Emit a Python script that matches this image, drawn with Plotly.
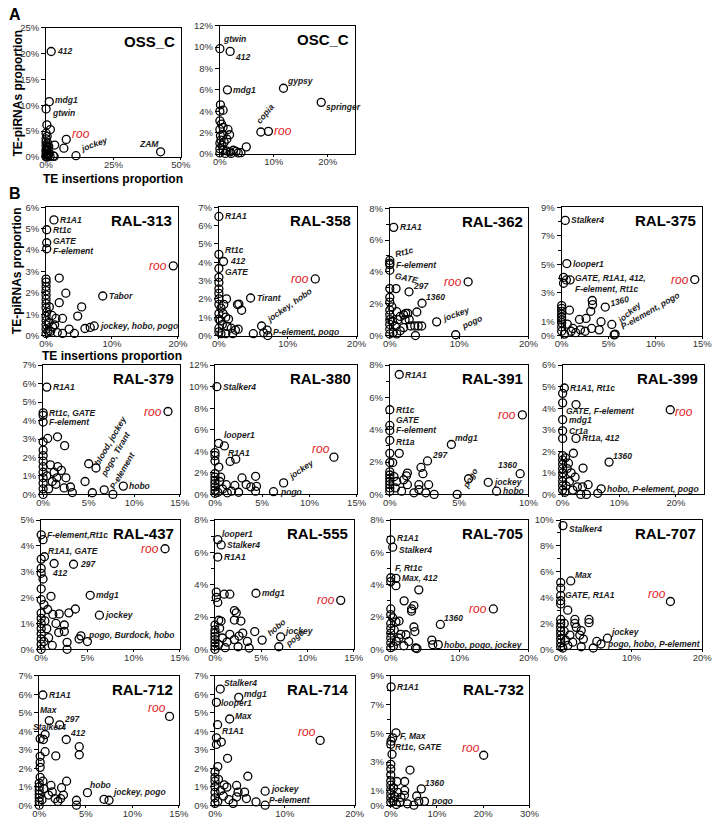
import plotly.graph_objects as go

# ---------------- DATA (percent units) ----------------
# For each panel: names of the labelled points (they are the first points of the list)
oss_c_names = ["412", "mdg1", "gtwin", "roo", "jockey", "ZAM"]
oss_c_pts = [(1.9, 20.4), (1.2, 10.7), (0.0, 9.3), (7.5, 3.4), (11.1, 0.25), (42.5, 1.0),
             (0.3, 6.2), (1.6, 5.3), (0.0, 4.6), (0.4, 4.0), (0.0, 3.5), (0.0, 2.9), (0.6, 2.7), (3.2, 2.3),
             (0.0, 2.2), (1.0, 2.0), (6.6, 1.7), (0.2, 1.6), (0.5, 1.2), (0.0, 1.0), (1.2, 0.8), (0.3, 0.6),
             (0.0, 0.4), (0.8, 0.3), (2.7, 0.2), (0.2, 0.1), (1.5, 0.1), (0.0, 0.0), (0.6, 0.0), (3.0, 0.1),
             (0.4, 1.9), (0.0, 1.4), (0.7, 0.5)]

osc_c_names = ["gtwin", "412", "mdg1", "gypsy", "springer", "copia", "roo"]
osc_c_pts = [(0.0, 9.85), (1.9, 9.6), (1.4, 6.0), (11.8, 6.15), (18.8, 4.83), (7.6, 2.06), (9.0, 2.12),
             (4.9, 0.67), (0.1, 4.6), (0.0, 4.0), (0.6, 4.1), (0.0, 3.1), (0.3, 2.8), (0.6, 2.5), (1.5, 2.3),
             (1.8, 1.8), (1.3, 1.4), (0.1, 1.7), (0.6, 1.8), (0.0, 2.3), (0.2, 1.3), (0.0, 1.0), (0.4, 0.8),
             (0.0, 0.5), (0.6, 0.4), (1.2, 0.3), (1.9, 0.2), (2.5, 0.35), (3.0, 0.25), (3.4, 0.1), (3.9, 0.12),
             (1.0, 0.05), (0.0, 0.1), (2.1, 0.05), (0.8, 1.1)]

ral313_names = ["R1A1", "Rt1c", "GATE", "F-element", "roo", "Tabor", "jockey, hobo, pogo"]
ral313_pts = [(1.2, 5.41), (0.1, 4.95), (0.1, 4.34), (0.1, 4.06), (19.3, 3.26), (8.6, 1.85), (7.3, 0.45),
              (2.0, 2.69), (3.0, 1.98), (2.0, 1.54), (5.4, 1.34), (4.8, 0.91), (2.5, 0.8), (6.7, 0.38), (5.9, 0.33),
              (3.5, 0.3), (1.7, 0.14), (0.7, 0.2), (0.0, 2.64), (0.0, 2.5), (0.0, 2.3), (0.0, 2.1), (0.0, 1.9),
              (0.0, 1.7), (0.0, 1.5), (0.0, 1.3), (0.1, 1.1), (0.0, 0.9), (0.0, 0.7), (0.0, 0.5), (0.0, 0.3),
              (0.0, 0.1), (0.5, 1.34), (0.9, 0.94), (1.5, 0.8), (0.4, 0.6), (1.0, 0.4), (0.3, 0.2), (2.5, 0.1),
              (4.3, 0.1), (1.3, 0.5)]

ral358_names = ["R1A1", "Rt1c", "412", "GATE", "roo", "Tirant", "jockey, hobo", "P-element, pogo"]
ral358_pts = [(0.0, 6.5), (0.0, 4.43), (0.67, 4.04), (0.0, 3.66), (14.0, 3.09), (4.6, 2.05), (6.2, 0.52), (7.0, 0.3),
              (2.7, 1.69), (2.9, 1.72), (3.3, 1.38), (1.1, 2.0), (0.7, 1.7), (0.0, 2.55), (0.0, 2.9), (0.0, 3.18),
              (0.0, 2.3), (0.0, 2.0), (0.0, 1.7), (0.3, 1.5), (0.6, 1.2), (1.0, 1.0), (1.4, 0.9), (0.2, 0.8),
              (0.5, 0.6), (1.2, 0.5), (1.8, 0.4), (2.4, 0.3), (2.8, 0.35), (0.0, 0.4), (0.0, 0.2), (0.3, 0.1),
              (1.0, 0.1), (2.0, 0.1), (5.0, 0.1), (6.5, 0.15), (7.1, 0.0), (0.0, 1.2), (0.0, 0.9)]

ral362_names = ["R1A1", "Rt1c", "F-element", "GATE", "roo", "297", "1360", "jockey", "pogo"]
ral362_pts = [(0.56, 6.8), (0.0, 4.72), (0.0, 4.45), (0.0, 4.1), (11.3, 3.38), (2.77, 2.75), (4.65, 2.03),
              (6.76, 0.86), (9.5, 0.05),
              (0.0, 4.55), (0.9, 2.95), (0.0, 2.95), (3.9, 1.48), (0.0, 2.4), (0.0, 2.1), (0.3, 1.8), (1.0, 1.5),
              (1.5, 1.2), (2.0, 1.3), (2.3, 1.4), (2.6, 1.4), (1.2, 1.0), (2.2, 1.0), (2.8, 1.0), (3.0, 0.6),
              (3.6, 0.6), (4.1, 0.6), (4.6, 0.6), (2.0, 0.5), (1.5, 0.3), (0.5, 0.2), (3.7, 0.0), (0.0, 1.6),
              (0.0, 1.3), (0.0, 1.0), (0.0, 0.7), (0.0, 0.4), (0.0, 0.1), (0.4, 0.9), (0.8, 0.6), (1.0, 0.1)]

ral375_names = ["Stalker4", "looper1", "GATE, R1A1, 412,<br>F-element, Rt1c", "roo", "1360", "jockey",
                "P-element, pogo"]
ral375_pts = [(0.38, 8.08), (0.55, 5.05), (0.9, 3.9), (14.2, 3.93), (4.65, 2.0), (5.35, 0.78), (5.6, 0.05),
              (0.2, 4.08), (0.5, 3.9), (0.2, 3.67), (3.26, 2.46), (3.3, 2.17), (3.1, 1.7), (0.83, 1.78), (2.6, 1.2),
              (1.9, 1.13), (4.2, 0.97), (5.7, 0.1), (0.0, 2.1), (0.0, 1.9), (0.0, 1.7), (0.0, 1.5), (0.0, 1.3),
              (0.0, 1.1), (0.0, 0.9), (0.0, 0.6), (0.0, 0.3), (0.3, 0.1), (1.2, 0.5), (2.0, 0.4), (2.5, 0.3),
              (3.2, 0.5), (4.0, 0.4), (1.5, 0.2), (0.6, 0.8), (1.0, 0.3)]

ral379_names = ["R1A1", "Rt1c, GATE", "F-element", "roo", "blood, jockey", "pogo, Tirant", "P-element", "hobo"]
ral379_pts = [(0.4, 5.81), (0.0, 4.42), (0.0, 3.92), (13.7, 4.49), (5.0, 1.66), (5.8, 1.43), (6.7, 0.25), (8.8, 0.45),
              (0.0, 4.28), (0.5, 3.03), (1.58, 3.12), (2.36, 2.64), (0.0, 2.85), (0.0, 2.4), (0.0, 2.1), (0.0, 1.8),
              (0.0, 1.5), (0.0, 1.2), (0.0, 0.9), (0.0, 0.6), (0.0, 0.3), (0.0, 0.0), (5.4, 0.09), (7.66, 0.0),
              (3.2, 0.1), (2.3, 0.35), (1.4, 0.55), (4.6, 0.7), (1.2, 1.2), (1.6, 1.5), (2.0, 1.3), (1.5, 0.9),
              (2.5, 0.9), (1.0, 0.7), (3.0, 0.4), (0.4, 1.0), (0.6, 0.3), (0.8, 1.6)]

ral380_names = ["Stalker4", "looper1", "R1A1", "roo", "jockey", "pogo"]
ral380_pts = [(0.2, 10.0), (0.38, 4.74), (1.0, 4.5), (12.6, 3.46), (7.27, 1.07), (6.2, 0.25),
              (0.0, 3.88), (0.0, 3.6), (0.0, 3.1), (0.4, 2.54), (0.0, 1.93), (1.6, 3.06), (2.2, 3.27), (4.3, 1.68),
              (2.86, 1.53), (3.3, 0.92), (2.1, 0.83), (4.3, 0.3), (4.4, 0.75), (1.76, 0.3), (3.8, 0.7), (0.0, 1.6),
              (0.0, 1.3), (0.0, 1.0), (0.0, 0.7), (0.0, 0.4), (0.0, 0.1), (0.5, 1.2), (0.8, 0.5), (1.2, 0.9),
              (0.3, 0.2), (1.3, 0.15), (2.5, 0.2), (0.6, 1.6)]

ral391_names = ["R1A1", "Rt1c", "GATE", "F-element", "Rt1a", "roo", "mdg1", "297", "1360", "jockey", "hobo", "pogo"]
ral391_pts = [(0.68, 7.42), (0.0, 5.24), (0.0, 4.27), (0.0, 3.96), (0.0, 3.35), (9.56, 4.92), (4.44, 3.09),
              (2.72, 2.07), (9.4, 1.28), (7.1, 0.75), (7.7, 0.2), (4.86, 0.0),
              (0.0, 2.54), (0.68, 2.54), (0.0, 1.97), (0.21, 1.97), (2.25, 1.67), (2.39, 1.28), (5.68, 0.97),
              (1.27, 0.6), (2.1, 0.6), (2.1, 0.3), (2.8, 0.6), (1.74, 0.1), (2.6, 0.1), (3.2, 0.0), (0.85, 0.2),
              (1.27, 1.32), (1.2, 1.15), (0.0, 1.4), (0.0, 1.2), (0.0, 1.0), (0.0, 0.8), (0.0, 0.6), (0.0, 0.4),
              (0.0, 0.2), (0.3, 1.1), (0.5, 0.8), (0.4, 0.4), (1.0, 0.9)]

ral399_names = ["R1A1, Rt1c", "GATE, F-element", "mdg1", "Cr1a", "Rt1a, 412", "roo", "1360", "hobo, P-element, pogo"]
ral399_pts = [(0.3, 4.94), (0.0, 4.25), (0.0, 3.47), (0.0, 2.95), (2.36, 2.6), (19.0, 3.93), (8.2, 1.5), (6.8, 0.26),
              (0.0, 4.69), (2.36, 4.17), (0.0, 2.6), (1.9, 1.91), (3.6, 1.22), (1.03, 1.45), (4.2, 0.0), (6.2, 0.05),
              (4.5, 0.45), (3.5, 0.35), (2.6, 0.35), (1.8, 0.2), (3.2, 0.0), (0.0, 1.8), (0.0, 1.6), (0.0, 1.4),
              (0.0, 1.2), (0.0, 1.0), (0.0, 0.8), (0.0, 0.6), (0.0, 0.4), (0.0, 0.2), (0.5, 1.7), (0.8, 1.2),
              (1.5, 1.0), (1.2, 0.6), (0.6, 0.4), (2.2, 0.8), (0.4, 0.1)]

ral437_names = ["F-element,Rt1c", "R1A1, GATE", "412", "297", "roo", "mdg1", "jockey", "pogo, Burdock, hobo"]
ral437_pts = [(0.0, 4.43), (0.35, 3.58), (1.4, 3.32), (3.5, 3.29), (13.4, 3.89), (5.3, 2.09), (6.3, 1.32), (4.3, 0.52),
              (0.2, 4.24), (0.0, 3.49), (0.0, 3.13), (0.0, 2.94), (0.2, 2.72), (0.0, 2.34), (0.0, 1.92), (1.06, 2.05),
              (3.7, 1.56), (3.0, 1.41), (1.95, 1.37), (1.26, 1.35), (0.7, 1.54), (0.3, 1.73), (1.6, 1.0), (2.5, 0.94),
              (4.1, 0.4), (5.0, 0.3), (2.8, 0.27), (2.8, 0.0), (1.9, 0.65), (2.5, 0.69), (1.2, 0.15), (0.8, 0.45),
              (0.0, 1.4), (0.0, 1.2), (0.0, 1.0), (0.0, 0.8), (0.0, 0.6), (0.0, 0.4), (0.0, 0.2), (0.0, 0.0),
              (0.4, 1.1), (0.6, 0.8), (0.3, 0.3)]

ral555_names = ["looper1", "Stalker4", "R1A1", "mdg1", "roo", "hobo", "jockey", "pogo"]
ral555_pts = [(0.3, 6.79), (0.67, 6.46), (0.3, 5.71), (4.43, 3.47), (13.6, 3.03), (5.1, 0.57), (7.1, 0.77), (6.9, 0.16),
              (0.14, 3.54), (0.14, 3.21), (0.3, 2.9), (1.0, 3.41), (1.6, 3.41), (2.1, 2.4), (2.3, 2.26), (2.1, 1.81),
              (2.8, 1.75), (0.4, 1.8), (0.65, 1.75), (3.5, 0.49), (3.7, 0.08), (2.5, 0.16), (2.1, 0.6), (1.6, 0.93),
              (2.6, 0.82), (1.3, 0.45), (0.0, 1.5), (0.0, 1.2), (0.0, 1.0), (0.0, 0.8), (0.0, 0.6), (0.0, 0.4),
              (0.0, 0.2), (0.0, 0.0), (0.5, 1.3), (0.8, 0.7), (0.4, 0.3), (1.1, 0.1), (4.3, 1.1), (3.0, 1.0)]

ral705_names = ["R1A1", "Stalker4", "F, Rt1c", "Max, 412", "roo", "1360", "hobo, pogo, jockey"]
ral705_pts = [(0.0, 6.77), (0.28, 6.32), (0.0, 4.43), (0.75, 4.39), (14.9, 2.5), (7.2, 1.54), (6.9, 0.29),
              (0.0, 4.19), (0.75, 3.94), (4.07, 3.68), (1.94, 3.0), (3.36, 2.7), (3.02, 2.5), (3.02, 2.36), (0.0, 2.5),
              (0.0, 2.15), (0.28, 1.95), (5.96, 0.57), (6.1, 0.29), (3.6, 0.08), (3.8, 0.05), (2.6, 0.49), (1.9, 0.22),
              (1.46, 0.93), (1.2, 0.7), (3.5, 1.1), (1.2, 1.75), (0.75, 1.7), (3.36, 1.38), (0.0, 1.6), (0.0, 1.3),
              (0.0, 1.0), (0.0, 0.7), (0.0, 0.4), (0.0, 0.1), (0.5, 1.2), (0.8, 0.5), (0.4, 0.2), (2.2, 0.9)]

ral707_names = ["Stalker4", "Max", "GATE, R1A1", "roo", "jockey", "pogo, hobo, P-element"]
ral707_pts = [(0.32, 9.57), (1.42, 5.29), (0.0, 4.73), (15.5, 3.7), (6.6, 0.86), (5.7, 0.41),
              (0.0, 5.17), (0.0, 4.17), (0.0, 3.76), (0.0, 3.51), (1.0, 3.03), (2.0, 2.31), (2.0, 2.0), (4.0, 2.31),
              (4.0, 2.06), (0.0, 2.31), (0.0, 2.0), (0.5, 2.0), (5.1, 0.61), (4.6, 0.1), (2.9, 0.2), (3.2, 0.79),
              (2.7, 1.1), (2.9, 1.45), (1.3, 1.1), (1.7, 0.55), (1.0, 0.3), (0.0, 1.7), (0.0, 1.4), (0.0, 1.1),
              (0.0, 0.8), (0.0, 0.5), (0.0, 0.2), (0.5, 1.4), (0.7, 0.7), (0.3, 0.1), (2.2, 1.7)]

ral712_names = ["R1A1", "Max", "297", "Stalker4", "412", "roo", "hobo", "jockey, pogo"]
ral712_pts = [(0.39, 5.97), (1.08, 4.58), (2.2, 4.35), (0.63, 3.83), (2.9, 3.56), (14.0, 4.81), (5.18, 0.68), (7.5, 0.27),
              (0.1, 3.6), (0.45, 3.56), (4.3, 3.17), (4.3, 2.73), (0.63, 2.9), (1.78, 2.67), (0.1, 2.65), (0.1, 2.32),
              (0.1, 2.05), (0.1, 1.51), (2.94, 1.3), (6.96, 0.32), (4.0, 0.27), (4.0, 0.0), (2.4, 0.95), (2.3, 0.36),
              (2.6, 0.55), (1.26, 1.07), (1.4, 0.72), (1.7, 0.36), (1.0, 0.55), (2.0, 0.2), (0.0, 1.2), (0.0, 1.0),
              (0.0, 0.8), (0.0, 0.6), (0.0, 0.4), (0.0, 0.2), (0.0, 0.0), (0.4, 1.3), (0.5, 0.9), (0.3, 0.3)]

ral714_names = ["Stalker4", "mdg1", "looper1", "Max", "R1A1", "roo", "jockey", "P-element"]
ral714_pts = [(0.75, 6.29), (3.4, 5.84), (0.2, 5.57), (2.1, 4.67), (0.37, 4.36), (15.06, 3.51), (7.18, 0.76), (7.18, 0.0),
              (0.2, 3.65), (0.2, 3.29), (0.9, 3.42), (1.8, 2.54), (0.4, 2.09), (4.7, 1.57), (5.87, 0.18), (4.24, 0.71),
              (4.5, 0.36), (3.1, 1.07), (3.1, 0.45), (3.3, 0.71), (2.6, 0.1), (1.7, 0.98), (0.0, 1.8), (0.0, 1.5),
              (0.0, 1.3), (0.0, 1.0), (0.0, 0.7), (0.0, 0.4), (0.0, 0.1), (0.5, 1.4), (0.8, 0.8), (1.2, 0.5),
              (0.4, 0.2), (2.0, 0.3), (1.3, 1.1)]

ral732_names = ["R1A1", "F, Max", "Rt1c, GATE", "roo", "1360", "pogo"]
ral732_pts = [(0.07, 8.24), (1.13, 5.04), (0.07, 4.46), (20.1, 3.48), (6.6, 1.14), (7.3, 0.27),
              (0.42, 4.69), (0.0, 4.24), (0.28, 3.55), (4.16, 2.45), (0.0, 2.85), (0.0, 2.52), (0.0, 2.11),
              (1.34, 1.65), (3.0, 1.65), (5.6, 0.64), (6.06, 0.27), (5.0, 0.0), (3.0, 1.03), (2.95, 0.69),
              (2.2, 0.55), (3.6, 0.1), (1.5, 0.9), (0.0, 1.7), (0.0, 1.4), (0.0, 1.1), (0.0, 0.8), (0.0, 0.5),
              (0.0, 0.2), (0.6, 1.2), (0.9, 0.6), (0.5, 0.3), (2.0, 0.2), (1.2, 0.05)]

panel_titles = ["OSS_C", "OSC_C", "RAL-313", "RAL-358", "RAL-362", "RAL-375", "RAL-379", "RAL-380", "RAL-391",
                "RAL-399", "RAL-437", "RAL-555", "RAL-705", "RAL-707", "RAL-712", "RAL-714", "RAL-732"]
x_max = [50, 25, 20, 20, 20, 15, 15, 15, 10, 25, 15, 15, 20, 20, 15, 20, 30]
x_step = [25, 10, 10, 10, 10, 5, 5, 5, 5, 10, 5, 5, 10, 10, 5, 10, 10]
y_max = [25, 12, 6, 7, 8, 9, 7, 12, 8, 6, 5, 8, 8, 10, 7, 7, 9]
y_ticks = [[0, 5, 10, 15, 20, 25], [0, 2, 4, 6, 8, 10, 12], [0, 1, 2, 3, 4, 5, 6], [0, 1, 2, 3, 4, 5, 6, 7],
           [0, 2, 4, 6, 8], [0, 1, 3, 5, 7, 9], [0, 1, 2, 3, 4, 5, 6, 7], [0, 2, 4, 6, 8, 10, 12],
           [0, 2, 4, 6, 8], [0, 1, 2, 3, 4, 5, 6], [0, 1, 2, 3, 4, 5], [0, 2, 4, 6, 8],
           [0, 2, 4, 6, 8], [0, 2, 4, 6, 8, 10], [0, 1, 2, 3, 4, 5, 6, 7], [0, 1, 2, 3, 4, 5, 6, 7],
           [0, 1, 3, 5, 7, 9]]

all_names = [oss_c_names, osc_c_names, ral313_names, ral358_names, ral362_names, ral375_names, ral379_names,
             ral380_names, ral391_names, ral399_names, ral437_names, ral555_names, ral705_names, ral707_names,
             ral712_names, ral714_names, ral732_names]
all_pts = [oss_c_pts, osc_c_pts, ral313_pts, ral358_pts, ral362_pts, ral375_pts, ral379_pts, ral380_pts,
           ral391_pts, ral399_pts, ral437_pts, ral555_pts, ral705_pts, ral707_pts, ral712_pts, ral714_pts, ral732_pts]

# ---------------- LAYOUT / STYLE ----------------
W, H = 724, 826
# plot-area pixel boxes: left, right, top, bottom
boxes = [(40, 178, 22, 153), (218, 356, 20, 150),
         (40, 175, 204, 334), (217, 358, 204, 334), (392, 534, 205, 334), (568, 712, 204, 334),
         (37, 177, 364, 495), (213, 358, 364, 495), (392, 534, 364, 495), (569, 714, 364, 495),
         (35, 177, 521, 652), (213, 355, 521, 652), (393, 534, 521, 652), (567, 712, 521, 652),
         (33, 176, 679, 810), (213, 356, 679, 810), (393, 535, 679, 810)]
minor_y = [False, False, False, False, True, True, False, False, True, False, False, True, True, True, False, False, True]

R = ("left", "middle", 5, 0, 0)
L = ("right", "middle", -5, 0, 0)
RU = ("left", "bottom", 3, 0, 0)
RD = ("left", "top", 3, 0, 0)
LU = ("right", "bottom", -3, 0, 0)
label_pos = [
    [R, ("left", "middle", 5, 2, 0), ("left", "middle", 5, -4, 0), ("left", "middle", 5, 5, 0),
     ("left", "bottom", 2, 1, -20), ("right", "bottom", -1, 2, 0)],
    [("left", "bottom", 2, 4, 0), ("left", "top", 4, 0, 0), R, ("left", "bottom", 3, 1, 0), ("left", "top", 4, 1, 0),
     ("center", "bottom", 4, 5, -50), R],
    [R, R, ("left", "middle", 5, 2, 0), ("left", "middle", 5, -2, 0), L, R, R],
    [R, ("left", "middle", 5, 4, 0), ("left", "middle", 5, 1, 0), ("left", "middle", 5, -4, 0), L, R,
     ("left", "bottom", 2, 0, -35), ("left", "middle", 5, -2, 0)],
    [R, ("left", "bottom", 3, 0, -15), R, ("left", "top", 3, 1, 12), L, RU, RU, ("left", "bottom", 3, -3, -20),
     ("left", "bottom", 3, 2, -25)],
    [R, R, ("left", "top", 4, 8, 0), L, ("left", "bottom", 3, -2, -15), ("left", "bottom", 2, -2, -40),
     ("left", "bottom", 3, 2, -30)],
    [R, R, R, L, ("left", "bottom", 2, -4, -60), ("left", "bottom", 1, -12, -60), ("left", "bottom", 2, -2, -60), R],
    [R, ("left", "bottom", 4, 2, 0), ("left", "top", 3, -1, 0), ("right", "bottom", -3, 0, 0),
     ("left", "bottom", 2, 0, -35), R],
    [R, R, ("left", "middle", 5, 5, 0), ("left", "middle", 5, 0, 0), ("left", "middle", 5, -2, 0), L, RU, RU,
     ("right", "bottom", -2, 3, 0), R, R, ("left", "bottom", 2, 3, -60)],
    [R, ("left", "top", 2, -2, 0), R, R, R, ("left", "middle", 4, -2, 0), RU, R],
    [R, RU, ("left", "top", -3, -4, 0), R, L, R, R, ("left", "middle", 6, 1, 0)],
    [RU, R, R, R, L, ("left", "bottom", 2, 1, -40), RU, ("left", "bottom", 3, -4, -40)],
    [("left", "middle", 5, 2, 0), ("left", "middle", 5, -3, 0), ("left", "bottom", 3, 4, 0), R, L, RU, R],
    [("left", "middle", 5, -3, 0), RU, ("left", "top", 3, -1, 0), ("right", "bottom", -3, -1, 0), RU, R],
    [R, ("center", "bottom", 0, 5, 0), RU, ("center", "bottom", 4, 1, 0), RU, LU, ("left", "bottom", 2, 2, 0),
     ("left", "bottom", 3, 2, 0)],
    [RU, ("left", "middle", 4, 3, 0), ("left", "middle", 4, -1, 0), ("left", "middle", 4, 3, 0), RD, LU,
     ("left", "middle", 5, 2, 0), ("left", "bottom", 3, -1, 0)],
    [R, ("left", "top", 3, 3, 0), RD, ("right", "bottom", -3, -1, 0), RU, R],
]

FONT = "Liberation Sans, Arial, sans-serif"
tickfont = dict(family=FONT, size=9.5, color="#333333")
labelfont = dict(family=FONT, size=8.5, color="#1a1a1a")

fig = go.Figure()
annotations = []

for i in range(len(panel_titles)):
    n = "" if i == 0 else str(i + 1)
    x0, x1, yt, yb = boxes[i]
    pts = all_pts[i]
    fig.add_trace(go.Scatter(
        x=[p[0] for p in pts], y=[p[1] for p in pts], xaxis="x" + n, yaxis="y" + n,
        mode="markers", cliponaxis=False, showlegend=False, hoverinfo="skip",
        marker=dict(symbol="circle-open", size=8, color="black", line=dict(width=1.3))))
    xvals = list(range(0, x_max[i] + 1, x_step[i]))
    xa = dict(domain=[x0 / W, x1 / W], anchor="y" + n, range=[0, x_max[i]], tickmode="array",
              tickvals=xvals, ticktext=["%d%%" % v for v in xvals],
              showgrid=False, zeroline=False, showline=True, mirror=True,
              linecolor="black", linewidth=1, ticks="outside", ticklen=2, tickcolor="black", tickfont=tickfont,
              ticklabelstandoff=-3, fixedrange=True)
    ya = dict(domain=[1 - yb / H, 1 - yt / H], anchor="x" + n, range=[0, y_max[i]], tickmode="array",
              tickvals=y_ticks[i], ticktext=["%d%%" % v for v in y_ticks[i]],
              showgrid=False, zeroline=False, showline=True, mirror=True,
              linecolor="black", linewidth=1, ticks="outside", ticklen=4, tickcolor="black", tickfont=tickfont,
              fixedrange=True)
    if minor_y[i]:
        ya["minor"] = dict(ticks="outside", dtick=1, tick0=0, ticklen=3, tickcolor="black")
    fig.layout["xaxis" + n] = xa
    fig.layout["yaxis" + n] = ya

    annotations.append(dict(x=(x1 - 4) / W, y=1 - (yt + 3) / H, xref="paper", yref="paper", showarrow=False,
                            xanchor="right", yanchor="top", text="<b>%s</b>" % panel_titles[i],
                            font=dict(family=FONT, size=15, color="black")))
    for name, p, pos in zip(all_names[i], pts, label_pos[i]):
        xanc, yanc, dx, dy, ang = pos
        if name == "roo":
            txt = "<i>roo</i>"
            f = dict(family=FONT, size=12, color="#e3191c")
        else:
            txt = "<b><i>%s</i></b>" % name
            f = labelfont
        annotations.append(dict(x=p[0], y=p[1], xref="x" + n, yref="y" + n, showarrow=False, text=txt,
                                xanchor=xanc, yanchor=yanc, xshift=dx, yshift=dy, textangle=ang, font=f,
                                align="left", borderpad=0))

for txt, px, py in [("A", 8, 9), ("B", 8, 190)]:
    annotations.append(dict(x=px / W, y=1 - py / H, xref="paper", yref="paper", showarrow=False,
                            xanchor="center", yanchor="middle",
                            text="<b>%s</b>" % txt, font=dict(family=FONT, size=16, color="black")))
for px, py in [(11, 88), (11, 268)]:
    annotations.append(dict(x=px / W, y=1 - py / H, xref="paper", yref="paper", showarrow=False, textangle=-90,
                            xanchor="center", yanchor="middle",
                            text="<b>TE-piRNAs proportion</b>", font=dict(family=FONT, size=12, color="black")))
for px, py in [(109, 175), (108, 355)]:
    annotations.append(dict(x=px / W, y=1 - py / H, xref="paper", yref="paper", showarrow=False,
                            xanchor="center", yanchor="middle",
                            text="<b>TE insertions proportion</b>", font=dict(family=FONT, size=12, color="black")))

fig.update_layout(width=W, height=H, margin=dict(l=0, r=0, t=0, b=0), paper_bgcolor="white",
                  plot_bgcolor="white", annotations=annotations, showlegend=False)
fig.write_html("out.html", config={"displayModeBar": False},
               post_script="document.body.style.margin='0px';")
